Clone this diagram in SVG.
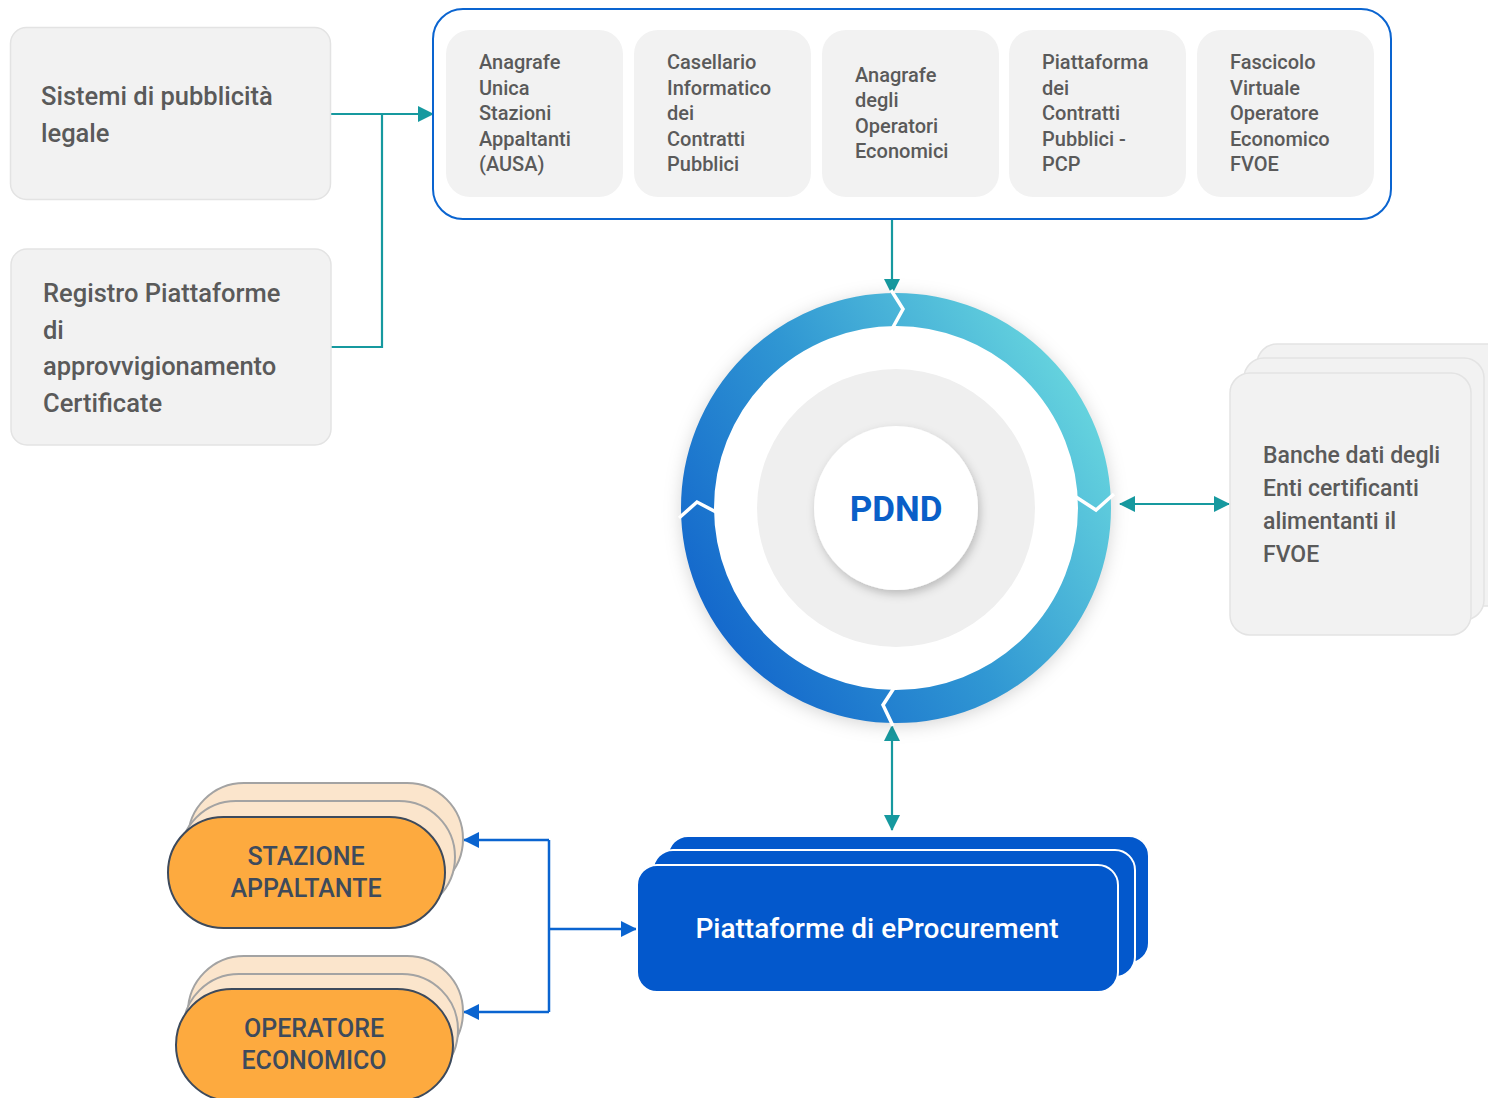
<svg xmlns="http://www.w3.org/2000/svg" width="1488" height="1098" viewBox="0 0 1488 1098">
<style>
.gbox{fill:#f2f2f2;stroke:#e3e3e3;stroke-width:1.5}
.tbox{fill:#f2f2f2}
.gt{font-family:Roboto,"Liberation Sans",sans-serif;font-weight:500;fill:#5a5a5a}
.t20{font-size:20px}
.t24{font-size:25.5px}
.t23{font-size:23px}
.blue{fill:#0358cc;stroke:#ffffff;stroke-width:2}
.pillb{fill:#fbe5cc;stroke:#a3a3a3;stroke-width:2}
.pillf{fill:#fdaa3f;stroke:#3d4a5c;stroke-width:2}
.pt{font-family:Roboto,"Liberation Sans",sans-serif;font-weight:500;font-size:25px;fill:#3d4a5c;text-anchor:middle}
.teal{stroke:#16999f;stroke-width:2.2;fill:none}
.bl{stroke:#0a64d0;stroke-width:2.5;fill:none}
.cut{stroke:#ffffff;stroke-width:3.5;fill:none;stroke-linejoin:miter}
</style>
<defs>
<marker id="ah" markerUnits="userSpaceOnUse" markerWidth="16" markerHeight="16" refX="15" refY="8" orient="auto-start-reverse" viewBox="0 0 16 16">
<path d="M0,0 L16,8 L0,16 z" fill="#16999f"/>
</marker>
<marker id="ahb" markerUnits="userSpaceOnUse" markerWidth="16" markerHeight="16" refX="15" refY="8" orient="auto-start-reverse" viewBox="0 0 16 16">
<path d="M0,0 L16,8 L0,16 z" fill="#0a64d0"/>
</marker>
<linearGradient id="ringg" x1="0" y1="0.85" x2="1" y2="0.25">
<stop offset="0" stop-color="#1163cb"/>
<stop offset="0.5" stop-color="#3097d3"/>
<stop offset="1" stop-color="#66d4de"/>
</linearGradient>
<filter id="glow" x="-20%" y="-20%" width="140%" height="140%">
<feDropShadow dx="0" dy="3" stdDeviation="9" flood-color="#000" flood-opacity="0.18"/>
</filter>
<filter id="sh" x="-30%" y="-30%" width="160%" height="160%">
<feDropShadow dx="2" dy="4" stdDeviation="5" flood-color="#000" flood-opacity="0.22"/>
</filter>
</defs>
<rect width="1488" height="1098" fill="#ffffff"/>

<g id="connectors">
<path class="teal" d="M331,114 L433,114" marker-end="url(#ah)"/>
<path class="teal" d="M331,347 L382,347 L382,114"/>
<path class="teal" d="M892,219 L892,294" marker-end="url(#ah)"/>
<path class="teal" d="M1120,504 L1229,504" marker-start="url(#ah)" marker-end="url(#ah)"/>
<path class="teal" d="M892,726 L892,830" marker-start="url(#ah)" marker-end="url(#ah)"/>
<path class="bl" d="M549,840 L464,840" marker-end="url(#ahb)"/>
<path class="bl" d="M549,840 L549,1012"/>
<path class="bl" d="M549,1012 L464,1012" marker-end="url(#ahb)"/>
<path class="bl" d="M549,929 L636,929" marker-end="url(#ahb)"/>
</g>

<g id="sistemi">
<rect class="gbox" x="10.5" y="27.5" width="320" height="172" rx="16"/>
<text class="gt t24" x="41" y="105">Sistemi di pubblicità</text>
<text class="gt t24" x="41" y="142">legale</text>
</g>

<g id="registro">
<rect class="gbox" x="11" y="249" width="320" height="196" rx="16"/>
<text class="gt t24" x="43" y="302">Registro Piattaforme</text>
<text class="gt t24" x="43" y="339">di</text>
<text class="gt t24" x="43" y="375">approvvigionamento</text>
<text class="gt t24" x="43" y="412">Certificate</text>
</g>

<g id="banche-nazionali">
<rect x="433" y="9" width="958" height="210" rx="30" fill="#ffffff" stroke="#0a64d0" stroke-width="2"/>
<g id="ausa">
<rect class="tbox" x="446" y="30" width="177" height="167" rx="24"/>
<text class="gt t20" x="479" y="69">Anagrafe</text>
<text class="gt t20" x="479" y="95">Unica</text>
<text class="gt t20" x="479" y="120">Stazioni</text>
<text class="gt t20" x="479" y="146">Appaltanti</text>
<text class="gt t20" x="479" y="171">(AUSA)</text>
</g>
<g id="casellario">
<rect class="tbox" x="634" y="30" width="177" height="167" rx="24"/>
<text class="gt t20" x="667" y="69">Casellario</text>
<text class="gt t20" x="667" y="95">Informatico</text>
<text class="gt t20" x="667" y="120">dei</text>
<text class="gt t20" x="667" y="146">Contratti</text>
<text class="gt t20" x="667" y="171">Pubblici</text>
</g>
<g id="anagrafe-oe">
<rect class="tbox" x="822" y="30" width="177" height="167" rx="24"/>
<text class="gt t20" x="855" y="82">Anagrafe</text>
<text class="gt t20" x="855" y="107">degli</text>
<text class="gt t20" x="855" y="133">Operatori</text>
<text class="gt t20" x="855" y="158">Economici</text>
</g>
<g id="pcp">
<rect class="tbox" x="1009" y="30" width="177" height="167" rx="24"/>
<text class="gt t20" x="1042" y="69">Piattaforma</text>
<text class="gt t20" x="1042" y="95">dei</text>
<text class="gt t20" x="1042" y="120">Contratti</text>
<text class="gt t20" x="1042" y="146">Pubblici -</text>
<text class="gt t20" x="1042" y="171">PCP</text>
</g>
<g id="fvoe">
<rect class="tbox" x="1197" y="30" width="177" height="167" rx="24"/>
<text class="gt t20" x="1230" y="69">Fascicolo</text>
<text class="gt t20" x="1230" y="95">Virtuale</text>
<text class="gt t20" x="1230" y="120">Operatore</text>
<text class="gt t20" x="1230" y="146">Economico</text>
<text class="gt t20" x="1230" y="171">FVOE</text>
</g>
</g>

<g id="pdnd">
<circle cx="896" cy="508" r="214" fill="#ffffff" filter="url(#glow)"/>
<circle cx="896" cy="508" r="198.5" fill="none" stroke="url(#ringg)" stroke-width="33"/>
<polyline class="cut" points="891,290 903,309 892,329"/>
<polyline class="cut" points="1076,497 1096,510 1114,494"/>
<polyline class="cut" points="894,688 883,705 893,726"/>
<polyline class="cut" points="679,518 697,502 716,512"/>
<circle cx="896" cy="508" r="139" fill="#efefef"/>
<circle cx="896" cy="508" r="82" fill="#ffffff" filter="url(#sh)"/>
<text x="896" y="521" text-anchor="middle" font-family="Roboto,'Liberation Sans',sans-serif" font-weight="700" font-size="35" fill="#0a5fc8">PDND</text>
</g>

<g id="banche-enti">
<rect class="gbox" x="1257" y="344" width="250" height="262" rx="20"/>
<rect class="gbox" x="1244" y="358" width="240" height="262" rx="20"/>
<rect class="gbox" x="1230" y="373" width="241" height="262" rx="20"/>
<text class="gt t23" x="1263" y="463">Banche dati degli</text>
<text class="gt t23" x="1263" y="496">Enti certificanti</text>
<text class="gt t23" x="1263" y="529">alimentanti il</text>
<text class="gt t23" x="1263" y="562">FVOE</text>
</g>

<g id="eprocurement">
<rect class="blue" x="668" y="836" width="481" height="127" rx="20"/>
<rect class="blue" x="653" y="850" width="482" height="127" rx="20"/>
<rect class="blue" x="637" y="865" width="481" height="127" rx="20"/>
<text x="877" y="938" text-anchor="middle" font-family="Roboto,'Liberation Sans',sans-serif" font-weight="500" font-size="28" fill="#ffffff">Piattaforme di eProcurement</text>
</g>

<g id="stazione">
<rect class="pillb" x="188" y="783" width="275" height="112" rx="56"/>
<rect class="pillb" x="180" y="801" width="275" height="112" rx="56"/>
<rect class="pillf" x="168" y="817" width="277" height="111" rx="55.5"/>
<text class="pt" x="306" y="865">STAZIONE</text>
<text class="pt" x="306" y="897">APPALTANTE</text>
</g>

<g id="operatore">
<rect class="pillb" x="188" y="956" width="275" height="112" rx="56"/>
<rect class="pillb" x="183" y="974" width="275" height="112" rx="56"/>
<rect class="pillf" x="176" y="989" width="277" height="112" rx="56"/>
<text class="pt" x="314" y="1037">OPERATORE</text>
<text class="pt" x="314" y="1069">ECONOMICO</text>
</g>
</svg>
